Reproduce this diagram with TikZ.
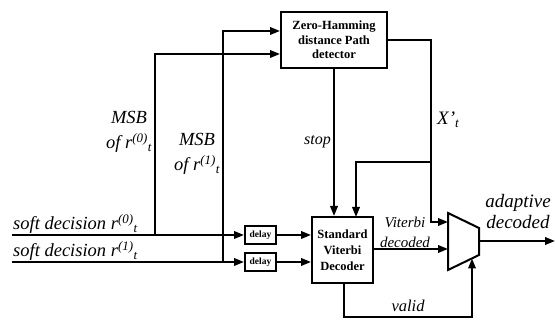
\documentclass[tikz,border=0pt]{standalone}
\usepackage{fontspec}
\setmainfont{Liberation Serif}
\usetikzlibrary{arrows.meta}
\tikzset{
  wire/.style={line width=2pt},
  arr/.style={wire,-{Triangle[length=10pt,width=7.5pt]}},
  blockbox/.style={draw,line width=2pt,inner sep=0pt,align=center,font=\bfseries\fontsize{12.5}{15}\selectfont},
  delaybox/.style={draw,line width=2pt,inner sep=0pt,minimum width=31pt,minimum height=18pt,font=\bfseries\fontsize{9.5}{11}\selectfont},
  lbl/.style={inner sep=0pt,font=\itshape\fontsize{#1}{#1}\selectfont},
  lbl/.default=17
}
\newcommand{\rsup}[1]{\textit{r}\textsuperscript{(#1)}\textsubscript{\textit{t}}}
\begin{document}
\begin{tikzpicture}[x=1pt,y=-1pt]
\useasboundingbox (0,0) rectangle (555,320);
% blocks
\node[blockbox,minimum width=106pt,minimum height=56pt,font=\bfseries\fontsize{12.5}{14.5}\selectfont] (zhd) at (334,40) {Zero-Hamming\\distance Path\\detector};
\node[blockbox,minimum width=61pt,minimum height=66pt,font=\bfseries\fontsize{12.5}{16}\selectfont] (vit) at (342.5,250) {Standard\\Viterbi\\Decoder};
\node[delaybox] (d0) at (260.5,235) {delay};
\node[delaybox] (d1) at (260.5,262) {delay};
% mux
\coordinate (m1) at (448,213);
\coordinate (m2) at (479,228);
\coordinate (m3) at (479,255);
\coordinate (m4) at (448,270);
\draw[wire,line join=miter] (m1) -- (m2) -- (m3) -- (m4) -- cycle;
\coordinate (muxin0) at (448,222);
\coordinate (muxin1) at (448,249);
\coordinate (muxsel) at (472,258.5);
\coordinate (muxout) at (479,241);
% inputs
\coordinate (in0) at (12,235);
\coordinate (in1) at (12,262);
\coordinate (j0) at (155,235);
\coordinate (j1) at (223,262);
\draw[arr] (in0) -- (d0.west);
\draw[arr] (in1) -- (d1.west);
\draw[arr] (j0) |- ([yshift=-14pt]zhd.west);
\draw[arr] (j1) |- ([yshift=9pt]zhd.west);
\draw[arr] (d0.east) -- (d0.east -| vit.west);
\draw[arr] (d1.east) -- (d1.east -| vit.west);
% detector outputs
\draw[arr] (zhd.south) -- (zhd.south |- vit.north);
\coordinate (xr) at (431,40);
\coordinate (fb) at (431,162);
\draw[arr] (zhd.east) -- (xr) |- (muxin0);
\draw[arr] (fb) -| (356,217);
% viterbi outputs
\draw[arr] (vit.east |- muxin1) -- (muxin1);
\coordinate (vb) at (344,317);
\draw[arr] (344,283) -- (vb) -| (muxsel);
\coordinate (outend) at (555,241);
\draw[arr] (muxout) -- (outend);
% labels
\node[lbl=18.5,align=center,font=\itshape\fontsize{18.5}{25}\selectfont] (msb0) at (129,132) {MSB\\of \rsup{0}};
\node[lbl=18.5,align=center,font=\itshape\fontsize{18.5}{25}\selectfont] (msb1) at (197,154) {MSB\\of \rsup{1}};
\node[lbl=18.5,anchor=base west] (sd0) at (13,230) {soft decision \rsup{0}};
\node[lbl=18.5,anchor=base west] (sd1) at (13,257) {soft decision \rsup{1}};
\node[lbl=16,anchor=east] (stop) at (331,142) {stop};
\node[lbl=19,anchor=west] (xp) at (437,120) {X’\textsubscript{\textit{t}}};
\node[lbl=15,align=center,font=\itshape\fontsize{15}{20}\selectfont] (vd) at (405,232) {Viterbi\\decoded};
\node[lbl=19,align=center,font=\itshape\fontsize{19}{21}\selectfont] (ad) at (518,212) {adaptive\\decoded};
\node[lbl=16.5] (valid) at (408,306) {valid};
\end{tikzpicture}
\end{document}
